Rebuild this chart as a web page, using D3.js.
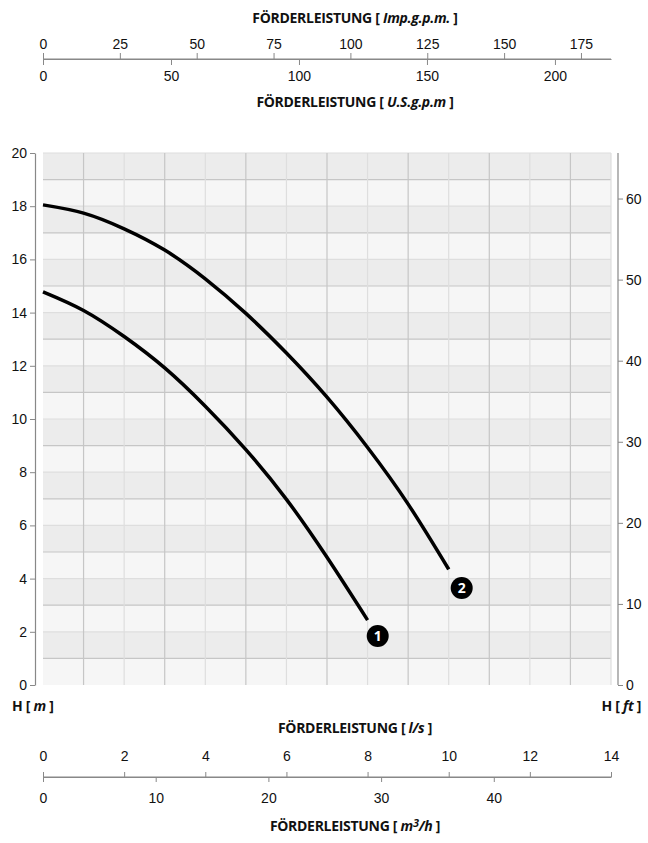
<!DOCTYPE html>
<html>
<head>
<meta charset="utf-8">
<script src="https://cdn.jsdelivr.net/npm/d3@7"></script>
<style>
  body { margin: 0; background: #fff; }
  svg { display: block; font-family: 'Open Sans', sans-serif; }
  .tick text { font-size: 14px; fill: #111; }
  .title { font-size: 14px; font-weight: bold; fill: #111; letter-spacing: -0.3px; }
</style>
</head>
<body>
<svg id="chart" width="648" height="843"></svg>
<script>
// pump curves: flow in l/s, head in m
const curve1Flow = [0, 1, 2, 3, 4, 5, 6, 7, 8];
const curve1Head = [14.78, 14.08, 13.1, 11.92, 10.48, 8.85, 6.98, 4.8, 2.44];
const curve2Flow = [0, 1, 2, 3, 4, 5, 6, 7, 8, 9, 10];
const curve2Head = [18.05, 17.74, 17.15, 16.35, 15.27, 13.97, 12.48, 10.82, 8.93, 6.8, 4.35];

const headTicksM = [0, 2, 4, 6, 8, 10, 12, 14, 16, 18, 20];
const headTicksFt = [0, 10, 20, 30, 40, 50, 60];
const flowTicksLs = [0, 2, 4, 6, 8, 10, 12, 14];
const flowTicksM3h = [0, 10, 20, 30, 40];
const flowTicksImp = [0, 25, 50, 75, 100, 125, 150, 175];
const flowTicksUS = [0, 50, 100, 150, 200];

const labelPos = [{ n: '1', q: 8.25, h: 1.84 }, { n: '2', q: 10.32, h: 3.65 }];

const svg = d3.select('#chart');
const LEFT = 43, RIGHT = 611, TOP = 153, BOTTOM = 685;
const FLOW_MAX = 14, HEAD_MAX = 20;
const TITLE_X = 355;

const x = d3.scaleLinear().domain([0, FLOW_MAX]).range([LEFT, RIGHT]);
const y = d3.scaleLinear().domain([0, HEAD_MAX]).range([BOTTOM, TOP]);
const yFt = d3.scaleLinear().domain([0, HEAD_MAX * 3.28084]).range([BOTTOM, TOP]);
const xM3h = d3.scaleLinear().domain([0, FLOW_MAX * 3.6]).range([LEFT, RIGHT]);
const xImp = d3.scaleLinear().domain([0, FLOW_MAX * 13.198]).range([LEFT, RIGHT]);
const xUS = d3.scaleLinear().domain([0, FLOW_MAX * 15.850]).range([LEFT, RIGHT]);

// background bands, one per metre
const grid = svg.append('g');
grid.selectAll('rect')
  .data(d3.range(0, HEAD_MAX))
  .join('rect')
  .attr('x', LEFT)
  .attr('width', RIGHT - LEFT)
  .attr('y', d => y(d + 1))
  .attr('height', d => y(d) - y(d + 1))
  .attr('fill', d => d % 2 === 1 ? '#ececec' : '#f6f6f6');

grid.selectAll('line.h')
  .data(d3.range(1, HEAD_MAX + 1))
  .join('line')
  .attr('class', 'h')
  .attr('x1', LEFT).attr('x2', RIGHT)
  .attr('y1', d => y(d)).attr('y2', d => y(d))
  .attr('stroke', d => d % 2 === 1 ? '#c6c6c6' : '#dedede')
  .attr('stroke-width', 1.2);

grid.selectAll('line.v')
  .data(d3.range(1, FLOW_MAX + 1))
  .join('line')
  .attr('class', 'v')
  .attr('y1', TOP).attr('y2', BOTTOM)
  .attr('x1', d => x(d)).attr('x2', d => x(d))
  .attr('stroke', d => d % 2 === 1 ? '#c6c6c6' : '#dedede')
  .attr('stroke-width', 1.2);

const styleAxis = g => {
  g.select('.domain').attr('stroke', '#888').attr('stroke-width', 1.2);
  g.selectAll('.tick line').attr('stroke', '#888');
};

// head axes
svg.append('g')
  .attr('transform', 'translate(35,0)')
  .call(d3.axisLeft(y).tickValues(headTicksM).tickSize(5).tickSizeOuter(0).tickPadding(3))
  .call(styleAxis);

svg.append('g')
  .attr('transform', 'translate(618,0)')
  .call(d3.axisRight(yFt).tickValues(headTicksFt).tickSize(5).tickSizeOuter(0).tickPadding(3))
  .call(g => g.select('.domain').attr('d', `M0,${TOP}V${BOTTOM}`))
  .call(styleAxis);

// top flow axes
const topLine = 59;
svg.append('g')
  .attr('transform', `translate(0,${topLine})`)
  .call(d3.axisTop(xImp).tickValues(flowTicksImp).tickSize(6).tickSizeOuter(0).tickPadding(4))
  .call(styleAxis);
svg.append('g')
  .attr('transform', `translate(0,${topLine})`)
  .call(d3.axisBottom(xUS).tickValues(flowTicksUS).tickSize(6).tickSizeOuter(0).tickPadding(6))
  .call(styleAxis)
  .call(g => g.select('.domain').attr('d', `M${LEFT},0H${RIGHT}`));

// bottom flow axes
const botLine = 777;
svg.append('g')
  .attr('transform', `translate(0,${botLine})`)
  .call(d3.axisTop(x).tickValues(flowTicksLs).tickSize(5).tickSizeOuter(0).tickPadding(11))
  .call(styleAxis);
svg.append('g')
  .attr('transform', `translate(0,${botLine})`)
  .call(d3.axisBottom(xM3h).tickValues(flowTicksM3h).tickSize(5).tickSizeOuter(0).tickPadding(11))
  .call(styleAxis)
  .call(g => g.select('.domain').attr('d', `M${LEFT},0H${RIGHT}`));

// titles
const title = (tx, ty, unit, anchor) => {
  const t = svg.append('text').attr('class', 'title')
    .attr('x', tx).attr('y', ty).attr('text-anchor', anchor || 'middle');
  t.append('tspan').text(unit[0]);
  t.append('tspan').attr('font-style', 'italic').text(unit[1]);
  t.append('tspan').text(unit[2]);
  return t;
};
title(TITLE_X, 23, ['FÖRDERLEISTUNG [ ', 'Imp.g.p.m.', ' ]']);
title(TITLE_X, 107, ['FÖRDERLEISTUNG [ ', 'U.S.g.p.m', ' ]']);
title(TITLE_X, 733, ['FÖRDERLEISTUNG [ ', 'l/s', ' ]']);
const m3 = svg.append('text').attr('class', 'title').attr('x', TITLE_X).attr('y', 831).attr('text-anchor', 'middle');
m3.append('tspan').text('FÖRDERLEISTUNG [ ');
m3.append('tspan').attr('font-style', 'italic').text('m');
m3.append('tspan').attr('font-style', 'italic').attr('font-size', '11px').attr('dy', -4).text('3');
m3.append('tspan').attr('font-style', 'italic').attr('dy', 4).text('/h');
m3.append('tspan').text(' ]');
title(12, 711, ['H [ ', 'm', ' ]'], 'start');
title(641, 711, ['H [ ', 'ft', ' ]'], 'end');

// curves
const line = d3.line().x(d => x(d[0])).y(d => y(d[1])).curve(d3.curveNatural);
const curves = [d3.zip(curve1Flow, curve1Head), d3.zip(curve2Flow, curve2Head)];
svg.selectAll('path.curve')
  .data(curves)
  .join('path')
  .attr('class', 'curve')
  .attr('d', line)
  .attr('fill', 'none')
  .attr('stroke', '#000')
  .attr('stroke-width', 3.5);

const badges = svg.selectAll('g.badge')
  .data(labelPos)
  .join('g')
  .attr('class', 'badge')
  .attr('transform', d => `translate(${x(d.q)},${y(d.h)})`);
badges.append('circle').attr('r', 11).attr('fill', '#000');
badges.append('text')
  .attr('text-anchor', 'middle').attr('dy', '0.36em')
  .attr('fill', '#fff').attr('font-weight', 'bold').attr('font-size', '14px')
  .text(d => d.n);
</script>
</body>
</html>
